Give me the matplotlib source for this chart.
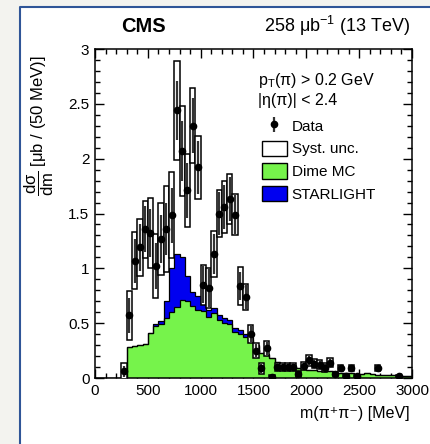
import matplotlib
matplotlib.use("Agg")
import matplotlib.pyplot as plt
from matplotlib.patches import Patch, Rectangle
from matplotlib.lines import Line2D
import numpy as np

plt.rcParams['font.family'] = ['Liberation Sans', 'DejaVu Sans']
plt.rcParams['mathtext.default'] = 'regular'

# 50 MeV bins from 0 to 3000 MeV
bin_edges = np.arange(0, 3050, 50)

# Dime MC (green), per bin
dime_mc = [0, 0, 0, 0, 0, 0, 0.285, 0.29, 0.30, 0.31,
           0.41, 0.47, 0.49, 0.545, 0.60, 0.65, 0.71, 0.70, 0.66, 0.62,
           0.61, 0.56, 0.59, 0.53, 0.50, 0.49, 0.42, 0.40, 0.37, 0.35,
           0.29, 0.225, 0.21, 0.18, 0.15, 0.12, 0.10, 0.10, 0.09, 0.08,
           0.07, 0.07, 0.065, 0.06, 0.06, 0.05, 0.05, 0.045, 0.045, 0.04,
           0.04, 0.045, 0.035, 0.03, 0.03, 0.025, 0.025, 0.02, 0.02, 0.015]

# STARLIGHT (blue), stacked on top of Dime MC
starlight = [0, 0, 0, 0, 0, 0, 0, 0, 0, 0,
             0, 0.02, 0.03, 0.155, 0.40, 0.48, 0.39, 0.23, 0.12, 0.13,
             0.07, 0.06, 0.05, 0.04, 0.05, 0.04, 0.04, 0.04, 0.03, 0.02,
             0.01, 0.005, 0.005, 0.005, 0, 0, 0, 0, 0, 0,
             0, 0, 0, 0, 0, 0, 0, 0, 0, 0,
             0, 0, 0, 0, 0, 0, 0, 0, 0, 0]

# data points: bin centre, value, stat. and syst. uncertainty
data_mass = [275, 325, 375, 425, 475, 525, 575, 625, 675, 725,
             775, 825, 875, 925, 975, 1025, 1075, 1125, 1175, 1225,
             1275, 1325, 1375, 1425, 1475, 1525, 1575, 1625, 1675, 1725,
             1775, 1825, 1875, 1925, 1975, 2025, 2075, 2125, 2175, 2225,
             2275, 2325, 2375, 2425, 2475, 2675, 2875]
data_xsec = [0.06, 0.57, 1.07, 1.19, 1.355, 1.325, 1.02, 1.27, 1.36, 1.485,
             2.44, 2.07, 1.71, 2.30, 1.92, 0.85, 0.82, 1.13, 1.50, 1.56,
             1.63, 1.49, 0.84, 0.74, 0.40, 0.25, 0.09, 0.27, 0.01, 0.10,
             0.10, 0.10, 0.10, 0.036, 0.11, 0.16, 0.13, 0.12, 0.095, 0.14,
             0.036, 0.09, 0.018, 0.09, 0.015, 0.09, 0.015]
data_stat = [0.05, 0.16, 0.20, 0.21, 0.21, 0.22, 0.21, 0.22, 0.24, 0.25,
             0.27, 0.27, 0.25, 0.25, 0.24, 0.17, 0.17, 0.18, 0.20, 0.20,
             0.20, 0.18, 0.13, 0.12, 0.08, 0.06, 0.04, 0.06, 0.02, 0.04,
             0.04, 0.04, 0.04, 0.03, 0.04, 0.04, 0.04, 0.04, 0.04, 0.04,
             0.02, 0.03, 0.02, 0.03, 0.02, 0.03, 0.02]
data_syst = [0.08, 0.22, 0.26, 0.26, 0.26, 0.32, 0.29, 0.33, 0.39, 0.39,
             0.45, 0.41, 0.33, 0.34, 0.29, 0.18, 0.18, 0.21, 0.21, 0.235,
             0.23, 0.19, 0.17, 0.12, 0.08, 0.07, 0.05, 0.07, 0.02, 0.04,
             0.04, 0.04, 0.04, 0.03, 0.04, 0.05, 0.04, 0.04, 0.04, 0.04,
             0.02, 0.03, 0.015, 0.03, 0.015, 0.025, 0.015]

y_ticks = [0, 0.5, 1, 1.5, 2, 2.5, 3]
y_tick_labels = ['0', '0.5', '1', '1.5', '2', '2.5', '3']
x_ticks = [0, 500, 1000, 1500, 2000, 2500, 3000]

green = '#76f34b'
blue = '#0000f0'

fig = plt.figure(figsize=(4.31, 4.44), dpi=100)
fig.patch.set_facecolor('#f3f3ef')
# white panel with a blue border on the top and left
x0, y1 = 20/431, 1 - 7/444
fig.add_artist(Rectangle((x0, 0), 1 - x0, y1, transform=fig.transFigure,
                         facecolor='white', edgecolor='none', zorder=-1))
fig.add_artist(Line2D([x0, x0, 1], [0, y1, y1], transform=fig.transFigure,
                      color='#2f5597', lw=1.5, zorder=-0.5))

ax = fig.add_axes([95/431, 1 - 378/444, 317/431, 329/444])

dime = np.array(dime_mc)
total = dime + np.array(starlight)
ax.stairs(total, bin_edges, fill=True, color=blue, zorder=2)
ax.stairs(dime, bin_edges, fill=True, color=green, zorder=2)
ax.stairs(dime, bin_edges, color='black', lw=0.9, zorder=2.1)
ax.stairs(total, bin_edges, color='black', lw=0.9, zorder=2.1)

xs = np.array(data_mass)
ys = np.array(data_xsec)
syst = np.array(data_syst)
ax.bar(xs, 2 * syst, bottom=ys - syst, width=50, facecolor='white',
       edgecolor='black', lw=1.1, zorder=3)
eb = ax.errorbar(xs, ys, yerr=data_stat, fmt='o', color='black', ecolor='#333333',
                 elinewidth=1.6, ms=4.5, capsize=0, zorder=4)

ax.set_xlim(0, 3000)
ax.set_ylim(0, 3)
ax.set_xticks(x_ticks)
ax.set_xticks(np.arange(0, 3001, 100), minor=True)
ax.set_yticks(y_ticks)
ax.set_yticklabels(y_tick_labels)
ax.set_yticks(np.arange(0, 3.01, 0.1), minor=True)
ax.tick_params(which='both', direction='in', top=True, right=True, width=1,
               labelsize=11)
ax.tick_params(which='major', length=6.5, pad=4)
ax.tick_params(which='minor', length=3.5)
for s in ax.spines.values():
    s.set_linewidth(1.1)

ax.text(0.082, 1.053, 'CMS', transform=ax.transAxes, fontsize=14.5,
        fontweight='bold', va='baseline')
ax.text(0.994, 1.053, r'258 μb$^{-1}$ (13 TeV)', transform=ax.transAxes,
        fontsize=13, ha='right', va='baseline')
ax.text(0.514, 0.89, r'p$_T$(π) > 0.2 GeV', transform=ax.transAxes,
        fontsize=11.5, va='baseline')
ax.text(0.514, 0.83, '|η(π)| < 2.4', transform=ax.transAxes,
        fontsize=11.5, va='baseline')

handles = [eb,
           Patch(facecolor='white', edgecolor='black', lw=1),
           Patch(facecolor=green, edgecolor='black', lw=1),
           Patch(facecolor=blue, edgecolor='black', lw=1)]
labels = ['Data', 'Syst. unc.', 'Dime MC', 'STARLIGHT']
ax.legend(handles, labels, loc='upper left', bbox_to_anchor=(0.527, 0.79),
          frameon=False, fontsize=11, borderpad=0, borderaxespad=0,
          handlelength=1.6, handleheight=1.15, labelspacing=0.45,
          handletextpad=0.35)

fig.text(39/431, 1 - 55/444, r'$\dfrac{d\sigma}{dm}$ [μb / (50 MeV)]',
         rotation=90, ha='center', va='top', fontsize=12)
fig.text(410/431, 1 - 413/444, 'm(π⁺π⁻) [MeV]', ha='right',
         va='center', fontsize=11.5)

fig.savefig('out.png', dpi=100)
